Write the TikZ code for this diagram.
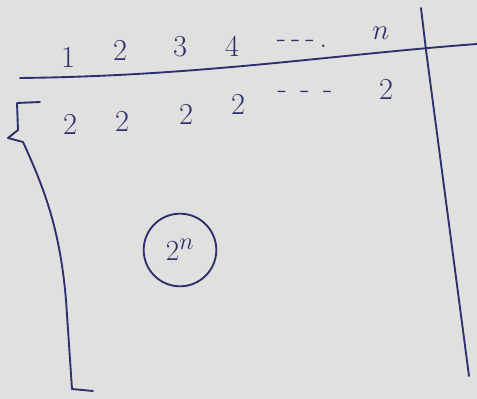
\documentclass[tikz,border=0pt]{standalone}
\usepackage{amsmath,amssymb}
\usepackage{xcolor}
\usetikzlibrary{positioning}
\definecolor{ink}{RGB}{46,48,110}
\definecolor{paper}{RGB}{224,224,222}

\begin{document}
\begin{tikzpicture}[x=0.03cm, y=-0.03cm,
  lbl/.style={text=ink, font=\fontsize{26}{30}\selectfont, inner sep=1pt},
  pen/.style={draw=ink, line width=1.6pt, line cap=round, line join=round}]

  \fill[paper] (0,0) rectangle (477,399);
  \useasboundingbox (0,0) rectangle (477,399);

  % header row
  \node [lbl] (h1) at (68,57) {1};
  \node [lbl] (h2) at (120,50) {2};
  \node [lbl] (h3) at (180,47) {3};
  \node [lbl] (h4) at (232,46) {4};
  \node [lbl] (hdots) at (302,44) {-\,-\,-\,.};
  \node [lbl] (hn) at (381,33) {$n$};

  % value row
  \node [lbl] (v1) at (70,124) {2};
  \node [lbl] (v2) at (122,121) {2};
  \node [lbl] (v3) at (186,114) {2};
  \node [lbl] (v4) at (238,104) {2};
  \node [lbl] (vdots) at (305,95) {-\;\,-\;\,-};
  \node [lbl] (vn) at (386,89) {2};

  % total
  \node [lbl, font=\fontsize{28}{32}\selectfont, draw=ink, line width=1.6pt, circle,
    minimum size=62pt, inner sep=0pt] (total) at (180,250) {$2^n$};

  % rules
  \coordinate (hl) at (20,78);
  \coordinate (hr) at (477,44);
  \coordinate (vt) at (421,8);
  \coordinate (vb) at (469,376);
  \draw [pen] (hl) .. controls (200,76) and (330,55) .. (hr);
  \draw [pen] (vt) -- (426,50) -- (vb);

  % brace
  \coordinate (bt) at (40,102);
  \coordinate (bb) at (93,391);
  \draw [pen] (bt) -- (17,103) -- (18,130) -- (8,138) -- (23,142)
    .. controls (45,190) and (60,230) .. (66,300) -- (72,389) -- (bb);
\end{tikzpicture}
\end{document}
